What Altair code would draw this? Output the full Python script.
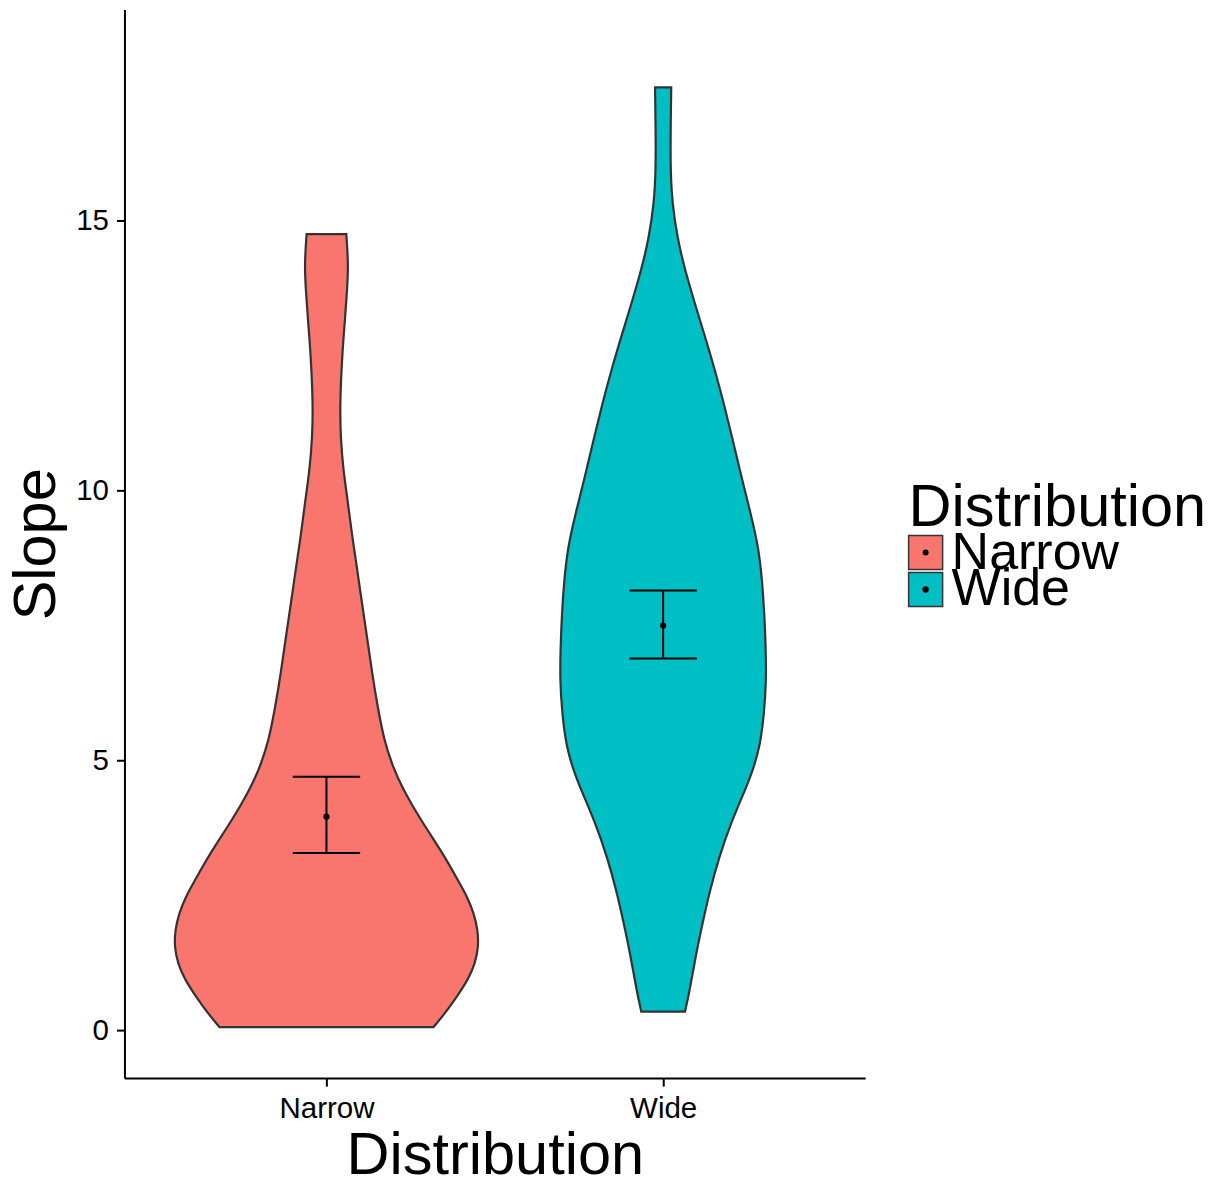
import altair as alt
import pandas as pd

# ---- data ----
categories = ["Narrow", "Wide"]
centers = [1, 2]
colors = ["#F8766D", "#00BFC4"]

# violin outlines: slope value and half-width (in category units)
narrow_y = [14.75, 14.21, 13.77, 13.16, 12.55, 11.62, 10.99, 10.38, 9.77, 9.08,
            8.47, 7.85, 7.23, 6.60, 6.00, 5.38, 4.89, 4.51, 3.90, 3.29,
            2.79, 2.48, 2.17, 1.86, 1.55, 1.24, 0.935, 0.626, 0.319, 0.065]
narrow_hw = [0.059, 0.065, 0.062, 0.055, 0.047, 0.040, 0.042, 0.050, 0.064, 0.078,
             0.093, 0.107, 0.122, 0.136, 0.152, 0.171, 0.197, 0.224, 0.280, 0.345,
             0.390, 0.418, 0.438, 0.4496, 0.4516, 0.4415, 0.420, 0.387, 0.352, 0.318]

wide_y = [17.47, 16.55, 15.94, 15.32, 14.69, 14.08, 13.47, 12.84, 12.23, 11.62,
          10.99, 10.19, 9.58, 8.96, 8.34, 7.73, 7.11, 6.49, 5.88, 5.26,
          4.76, 4.45, 3.84, 3.21, 2.60, 1.99, 1.36, 0.75, 0.35]
wide_hw = [0.024, 0.022, 0.022, 0.027, 0.042, 0.065, 0.094, 0.125, 0.154, 0.180,
           0.205, 0.235, 0.260, 0.283, 0.294, 0.3006, 0.3047, 0.3065, 0.300, 0.288,
           0.263, 0.243, 0.201, 0.166, 0.139, 0.117, 0.096, 0.079, 0.065]

means = [3.96, 7.50]
lowers = [3.29, 6.89]
uppers = [4.70, 8.15]

# ---- tables ----
rows = []
for cat, c, ys, hws in zip(categories, centers, [narrow_y, wide_y], [narrow_hw, wide_hw]):
    for y, hw in zip(ys, hws):
        rows.append({"Distribution": cat, "center": c, "Slope": y, "hw": hw})
violin_df = pd.DataFrame(rows)

err_df = pd.DataFrame({
    "Distribution": categories,
    "Group": categories,
    "Key": categories,
    "center": centers,
    "mean": means,
    "lower": lowers,
    "upper": uppers,
})

FONT = "Liberation Sans"

xscale = alt.Scale(domain=[0.4, 2.6], nice=False, zero=False)
yscale = alt.Scale(domain=[-0.88, 18.91], nice=False, zero=False)

label_expr = "[" + ",".join("'" + c + "'" for c in categories) + "][datum.value - 1]"
xaxis = alt.Axis(title="Distribution", values=centers, labelExpr=label_expr,
                 labelPadding=8, titlePadding=4)
yaxis = alt.Axis(title="Slope", values=[0, 5, 10, 15], labelPadding=8, titlePadding=9)

# legend layout (pixels relative to plot origin)
LEG_X_TITLE = 784.5   # legend title / dot legends
LEG_X_KEYS = 766.5    # square keys with labels
base = dict(orient="none", direction="vertical", padding=0, labelFont=FONT, labelLimit=600)

# square keys + labels (one legend per row)
legend_narrow = alt.Legend(
    title=None, legendX=LEG_X_KEYS, legendY=517.2, values=[categories[0]],
    labelFontSize=52, labelColor="black", labelOffset=0, symbolOffset=9,
    symbolType="square", symbolSize=1156, symbolStrokeColor="#333333",
    symbolStrokeWidth=1.5, symbolOpacity=1, **base,
)
legend_wide = alt.Legend(
    title=None, legendX=LEG_X_KEYS, legendY=554.2, values=[categories[1]],
    labelFontSize=52, labelColor="black", labelOffset=0, symbolOffset=9,
    symbolType="square", symbolSize=1156, symbolStrokeColor="#333333",
    symbolFillColor=colors[1], symbolStrokeWidth=1.5, symbolOpacity=1, **base,
)
# title + dot of first key
legend_dot1 = alt.Legend(
    title="Distribution", legendX=LEG_X_TITLE, legendY=469.7, values=[categories[0]],
    titleFontSize=59.5, titleFont=FONT, titleFontWeight="normal", titleColor="black",
    titlePadding=11, titleLimit=600,
    labelFontSize=1, labelColor="transparent", symbolOffset=14,
    symbolType="circle", symbolSize=36, symbolFillColor="black", symbolStrokeWidth=0,
    zindex=2, **base,
)
# dot of second key
legend_dot2 = alt.Legend(
    title=None, legendX=LEG_X_TITLE, legendY=576.7, values=[categories[1]],
    labelFontSize=1, labelColor="transparent", symbolOffset=13.5,
    symbolType="circle", symbolFillColor="black", symbolStrokeWidth=0,
    zindex=2, **base,
)

violin = alt.Chart(violin_df).transform_calculate(
    left="datum.center - datum.hw", right="datum.center + datum.hw"
).mark_area(
    orient="horizontal", interpolate="basis", strokeWidth=2.2,
    opacity=1, fillOpacity=1
).encode(
    y=alt.Y("Slope:Q", scale=yscale, axis=yaxis),
    x=alt.X("left:Q", scale=xscale, axis=xaxis),
    x2="right:Q",
    fill=alt.Fill("Distribution:N", scale=alt.Scale(domain=categories, range=colors),
                  legend=legend_narrow),
    stroke=alt.Stroke("Distribution:N", scale=alt.Scale(range=["#333333", "#333333"]),
                      legend=legend_wide),
)

whisker = alt.Chart(err_df).mark_rule(color="black", strokeWidth=2).encode(
    x=alt.X("center:Q", scale=xscale, axis=xaxis),
    y=alt.Y("lower:Q", scale=yscale, axis=yaxis),
    y2="upper:Q",
)

cap_base = alt.Chart(err_df).transform_calculate(
    cl="datum.center - 0.1", cr="datum.center + 0.1"
).mark_rule(color="black", strokeWidth=2)
cap_low = cap_base.encode(
    x=alt.X("cl:Q", scale=xscale, axis=xaxis), x2="cr:Q",
    y=alt.Y("lower:Q", scale=yscale, axis=yaxis),
)
cap_up = cap_base.encode(
    x=alt.X("cl:Q", scale=xscale, axis=xaxis), x2="cr:Q",
    y=alt.Y("upper:Q", scale=yscale, axis=yaxis),
)

point = alt.Chart(err_df).mark_point(filled=True, color="black", opacity=1).encode(
    x=alt.X("center:Q", scale=xscale, axis=xaxis),
    y=alt.Y("mean:Q", scale=yscale, axis=yaxis),
    shape=alt.Shape("Group:N", scale=alt.Scale(range=["circle", "circle"]),
                    legend=legend_dot1),
    size=alt.Size("Key:O", scale=alt.Scale(range=[40, 40]), legend=legend_dot2),
)

chart = alt.layer(violin, whisker, cap_low, cap_up, point).properties(
    width=741, height=1069,
    autosize=alt.AutoSizeParams(type="none"),
    padding={"left": 116.5, "top": 1.3, "right": 343, "bottom": 106},
    background="white",
).configure_axis(
    grid=False, domainColor="black", domainWidth=2, tickColor="black", tickWidth=2,
    tickSize=8, labelFont=FONT, labelFontSize=29.5, labelColor="black",
    titleFont=FONT, titleFontSize=59.5, titleFontWeight="normal", titleColor="black",
).configure_view(strokeWidth=0)

chart.save("out.html", embed_options={"renderer": "svg", "actions": False})
